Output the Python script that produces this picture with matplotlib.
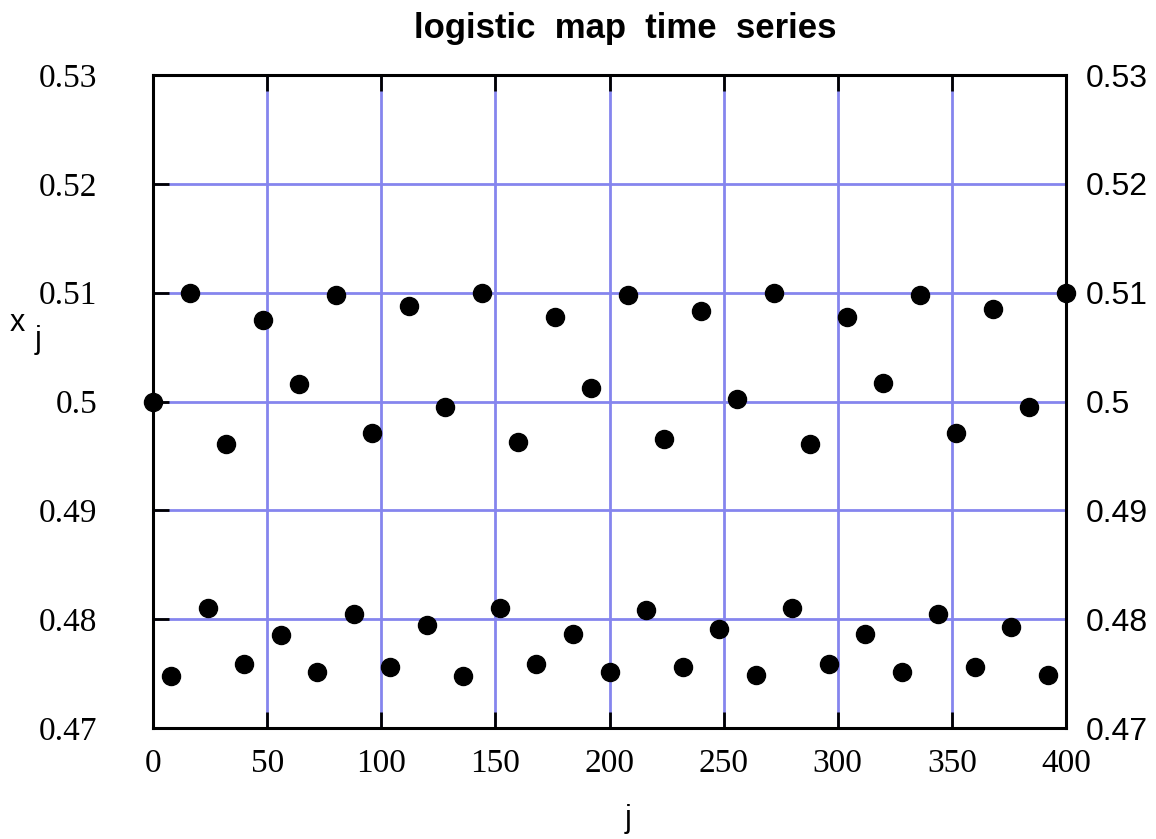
import matplotlib.pyplot as plt

# logistic map iterates, sampled every 8 steps
J = list(range(0, 401, 8))
X = [0.5000, 0.4748, 0.5100, 0.4810, 0.4961, 0.4759, 0.5075, 0.4785,
     0.5016, 0.4751, 0.5098, 0.4805, 0.4971, 0.4756, 0.5088, 0.4795,
     0.4995, 0.4748, 0.5100, 0.4810, 0.4963, 0.4759, 0.5078, 0.4786,
     0.5012, 0.4751, 0.5098, 0.4808, 0.4966, 0.4756, 0.5083, 0.4791,
     0.5002, 0.4749, 0.5100, 0.4810, 0.4961, 0.4759, 0.5078, 0.4786,
     0.5017, 0.4751, 0.5098, 0.4805, 0.4971, 0.4756, 0.5085, 0.4793,
     0.4995, 0.4749, 0.5100]

XTICKS = [0, 50, 100, 150, 200, 250, 300, 350, 400]
YTICKS = [0.47, 0.48, 0.49, 0.5, 0.51, 0.52, 0.53]
YTICKLABELS = ["0.47", "0.48", "0.49", "0.5", "0.51", "0.52", "0.53"]

GRID = "#8585ee"

fig = plt.figure(figsize=(11.56, 8.39), dpi=100)
fig.patch.set_facecolor("white")
ax = fig.add_axes([0.1324, 0.1323, 0.7897, 0.7783])

ax.set_xlim(0, 400)
ax.set_ylim(0.47, 0.53)

# grid lines
ax.grid(True, color=GRID, linewidth=2, zorder=0)
ax.set_axisbelow(True)

ax.plot(J, X, linestyle="none", marker="o", markersize=13,
        color="black", clip_on=False, zorder=5)

for spine in ax.spines.values():
    spine.set_linewidth(2.2)
    spine.set_color("black")
    spine.set_zorder(4)

ax.set_xticks(XTICKS)
ax.set_xticklabels([str(t) for t in XTICKS], fontfamily="Liberation Serif", fontsize=24)
ax.set_yticks(YTICKS)
ax.set_yticklabels(YTICKLABELS, fontfamily="Liberation Serif", fontsize=24)

ax.tick_params(axis="both", direction="in", length=11.5, width=2, color="black",
               top=True, right=True, zorder=4)
ax.tick_params(axis="x", pad=15)
ax.tick_params(axis="y", which="both", pad=40)

# right-side labels in sans serif
ax2 = ax.twinx()
ax2.set_ylim(0.47, 0.53)
ax2.set_yticks(YTICKS)
ax2.set_yticklabels(YTICKLABELS, fontfamily="Liberation Sans", fontsize=23)
ax2.tick_params(axis="y", direction="in", length=0, pad=14)
for spine in ax2.spines.values():
    spine.set_visible(False)

fig.text(0.541, 0.966, "logistic  map  time  series", ha="center", va="center",
         fontfamily="Liberation Sans", fontweight="bold", fontsize=25)

fig.text(0.543, 0.024, "j", ha="center", va="center",
         fontfamily="Liberation Sans", fontsize=22)
fig.text(0.015, 0.615, "x", ha="center", va="center",
         fontfamily="Liberation Sans", fontsize=22)
fig.text(0.033, 0.595, "j", ha="center", va="center",
         fontfamily="Liberation Sans", fontsize=22)

fig.savefig("out.png", dpi=100)
